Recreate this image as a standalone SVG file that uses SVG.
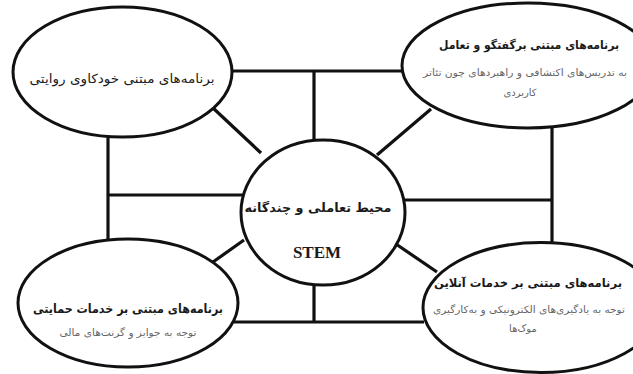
<svg xmlns="http://www.w3.org/2000/svg" width="633" height="374" viewBox="0 0 633 374">
<style>
.n{fill:#fff;stroke:#111;stroke-width:3}
.c line{stroke:#111;stroke-width:3.2;stroke-linecap:butt}
.fa{font-family:"DejaVu Sans","Noto Sans",sans-serif;direction:rtl;text-anchor:middle;fill:#1a1a1a}
.b{font-weight:bold;font-size:12.5px}
.b2{font-weight:bold;font-size:11.5px}
.r{font-size:12.5px}
.s{font-size:10px;fill:#666}
.en{font-family:"Liberation Serif",serif;font-weight:bold;font-size:17px;text-anchor:middle;fill:#1a1a1a}
</style>
<rect width="633" height="374" fill="#fff"/>
<g class="c" id="connectors">
<line x1="230" y1="71" x2="403" y2="71"/>
<line x1="314" y1="71" x2="314" y2="141"/>
<line x1="213" y1="108" x2="261" y2="153"/>
<line x1="431" y1="109" x2="377" y2="155"/>
<line x1="108" y1="135" x2="108" y2="240"/>
<line x1="108" y1="195" x2="243" y2="195"/>
<line x1="213" y1="262" x2="244" y2="240"/>
<line x1="552" y1="126" x2="552" y2="243"/>
<line x1="397" y1="200" x2="552" y2="200"/>
<line x1="393" y1="242" x2="437" y2="272"/>
<line x1="234" y1="322" x2="424" y2="322"/>
<line x1="314" y1="284" x2="314" y2="322"/>
</g>
<g id="node-narrative">
<ellipse class="n" cx="122.5" cy="72" rx="109.5" ry="65"/>
<text class="fa r" x="122" y="83" textLength="185" lengthAdjust="spacingAndGlyphs">برنامه‌های مبتنی خودکاوی روایتی</text>
</g>
<g id="node-dialogue">
<ellipse class="n" cx="528" cy="65.5" rx="126" ry="62.5"/>
<text class="fa b2" x="529" y="49" textLength="180" lengthAdjust="spacingAndGlyphs">برنامه‌های مبتنی برگفتگو و تعامل</text>
<text class="fa s" x="525" y="76" textLength="204" lengthAdjust="spacingAndGlyphs">به تدریس‌های اکتشافی و راهبردهای چون تئاتر</text>
<text class="fa s" x="520" y="96">کاربردی</text>
</g>
<g id="node-center">
<ellipse class="n" cx="323" cy="212.5" rx="82" ry="72.5"/>
<text class="fa b" x="318" y="212" textLength="147" lengthAdjust="spacingAndGlyphs">محیط تعاملی و چندگانه</text>
<text class="en" x="317" y="258">STEM</text>
</g>
<g id="node-support">
<ellipse class="n" cx="128" cy="303" rx="110" ry="64"/>
<text class="fa b" x="128" y="313" textLength="190" lengthAdjust="spacingAndGlyphs">برنامه‌های مبتنی بر خدمات حمایتی</text>
<text class="fa s" x="128" y="336" textLength="137" lengthAdjust="spacingAndGlyphs">توجه به جوایز و گرنت‌های مالی</text>
</g>
<g id="node-online">
<ellipse class="n" cx="541" cy="307.5" rx="118" ry="65"/>
<text class="fa b2" x="528" y="287" textLength="188" lengthAdjust="spacingAndGlyphs">برنامه‌های مبتنی بر خدمات آنلاین</text>
<text class="fa s" x="529" y="313" textLength="192" lengthAdjust="spacingAndGlyphs">توجه به یادگیری‌های الکترونیکی و به‌کارگیری</text>
<text class="fa s" x="523" y="332">موک‌ها</text>
</g>
</svg>
